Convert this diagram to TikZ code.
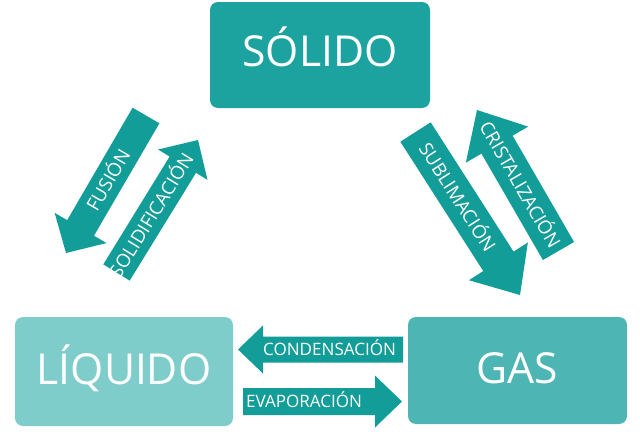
\documentclass[tikz,border=0pt]{standalone}
\usepackage{fontspec}
\setmainfont{Open Sans}
\usetikzlibrary{calc}
\def\pxu{0.75pt}
\definecolor{arrowc}{HTML}{129D98}
\definecolor{solidc}{HTML}{1CA3A0}
\definecolor{gasc}{HTML}{4DB6B5}
\definecolor{liqc}{HTML}{7FCDCB}
\tikzset{
  state/.style={rounded corners=6pt, text=white, inner sep=0pt,
    font=\fontsize{32}{38}\selectfont, text depth=0pt},
  hlbl/.style={text=white, inner sep=0pt, font=\fontsize{12.8}{15}\selectfont,
    text height=9.1pt, text depth=0pt},
  dlbl/.style={text=white, inner sep=0pt, font=\fontsize{14}{16}\selectfont,
    text height=10pt, text depth=0pt},
  arrowfill/.style={fill=arrowc}
}
% name, S, E, body width, head width, head length, label pos, label style, text
\newcommand\barrow[9]{%
  \coordinate (#1S) at #2;
  \coordinate (#1E) at #3;
  \coordinate (#1H) at ($(#1E)!#6*\pxu!(#1S)$);
  \fill[arrowfill] ($(#1S)!#4/2*\pxu!90:(#1E)$) -- ($(#1H)!#4/2*\pxu!90:(#1E)$)
    -- ($(#1H)!#5/2*\pxu!90:(#1E)$) -- (#1E) -- ($(#1H)!#5/2*\pxu!-90:(#1E)$)
    -- ($(#1H)!#4/2*\pxu!-90:(#1E)$) -- ($(#1S)!#4/2*\pxu!-90:(#1E)$) -- cycle;
  \path (#1S) -- node[#8, sloped, pos=#7] (#1) {#9} (#1E);
}
\begin{document}
\begin{tikzpicture}[x=0.75pt, y=-0.75pt]
\useasboundingbox (0,0) rectangle (640,432);
\node[state, fill=solidc, minimum width=165pt, minimum height=79.5pt, text height=17.5pt] (solido) at (320,55) {SÓLIDO};
\node[state, fill=liqc, minimum width=163.5pt, minimum height=81.75pt, text height=19.2pt] (liquido) at (124,371.5) {LÍQUIDO};
\node[state, fill=gasc, minimum width=164.25pt, minimum height=80.25pt, text height=19.2pt] (gas) at (517.5,370.5) {GAS};
\barrow{fusion}{(146,115.5)}{(66,253)}{31}{60}{29}{0.47}{dlbl}{FUSIÓN}
\barrow{solidif}{(116.5,272.5)}{(198,140)}{31}{58}{29}{0.43}{dlbl}{SOLIDIFICACIÓN}
\barrow{sublim}{(415.5,132)}{(520,295)}{36}{70}{40}{0.40}{dlbl}{SUBLIMACIÓN}
\barrow{crist}{(558.5,251)}{(477,110)}{36}{72}{40}{0.47}{dlbl}{CRISTALIZACIÓN}
\barrow{conden}{(403,349.5)}{(238,349.5)}{26}{48}{25}{0.445}{hlbl}{CONDENSACIÓN}
\barrow{evapor}{(243,401.5)}{(402,401.5)}{27}{52}{27}{0.384}{hlbl}{EVAPORACIÓN}
\end{tikzpicture}
\end{document}
